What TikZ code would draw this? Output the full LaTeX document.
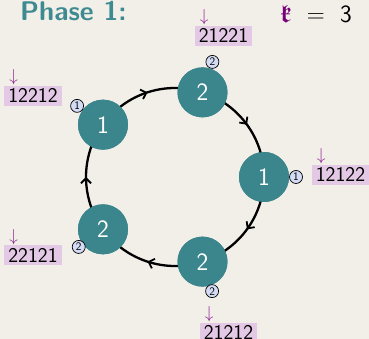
\documentclass[tikz,border=0pt]{standalone}
\usepackage{amsmath,amssymb}
\usetikzlibrary{arrows.meta,decorations.markings,calc}
\definecolor{bgcol}{RGB}{242,239,233}
\definecolor{tealc}{RGB}{59,134,140}
\definecolor{titlec}{RGB}{62,138,145}
\definecolor{labbg}{RGB}{227,201,229}
\definecolor{arrpurple}{RGB}{145,35,150}
\definecolor{kpurple}{RGB}{120,0,120}
\definecolor{smallfill}{RGB}{212,220,245}
\begin{document}
\begin{tikzpicture}[x=1pt,y=1pt,
  bignode/.style={circle,fill=tealc,minimum size=50pt,inner sep=0pt,text=white,
    font=\sffamily\fontsize{25}{27}\selectfont},
  smallnode/.style={circle,draw=black,line width=0.7pt,fill=smallfill,minimum size=13pt,inner sep=0pt,
    font=\sffamily\fontsize{11.5}{12}\selectfont},
  seqbox/.style={fill=labbg,inner xsep=4pt,inner ysep=3pt,text height=14pt,text depth=0pt,
    font=\sffamily\fontsize{21}{23}\selectfont},
  downarr/.style={text=arrpurple,inner sep=0pt,anchor=south,font=\fontsize{19}{21}\selectfont},
  ring/.style={line width=2.3pt,draw=black,postaction={decorate},
    decoration={markings,mark=at position 0.5 with {\arrow{Straight Barb[length=5pt,width=10pt,line width=1.8pt]}}}}
]
\fill[bgcol] (0,0) rectangle (369,339);
\useasboundingbox (0,0) rectangle (369,339);
\coordinate (c) at (175,162);
% ring nodes
\node[bignode] (n72) at ($(c)+(72:89)$) {};
\node[bignode] (n0) at ($(c)+(0:89)$) {};
\node[bignode] (n288) at ($(c)+(-72:89)$) {};
\node[bignode] (n216) at ($(c)+(216:89)$) {};
\node[bignode] (n144) at ($(c)+(144:89)$) {};
% arcs
\draw[ring] (n72.center) arc[start angle=72,end angle=0,radius=89];
\draw[ring] (n0.center) arc[start angle=0,end angle=-72,radius=89];
\draw[ring] (n288.center) arc[start angle=-72,end angle=-144,radius=89];
\draw[ring] (n216.center) arc[start angle=216,end angle=144,radius=89];
\draw[ring] (n144.center) arc[start angle=144,end angle=72,radius=89];
% redraw nodes on top
\node[bignode] at (n72) {2};
\node[bignode] at (n0) {1};
\node[bignode] at (n288) {2};
\node[bignode] at (n216) {2};
\node[bignode] at (n144) {1};
% small labels
\node[smallnode] (s72) at ($(c)+(72:121)$) {2};
\node[smallnode] (s0) at ($(c)+(0:121)$) {1};
\node[smallnode] (s288) at ($(c)+(-72:120)$) {2};
\node[smallnode] (s216) at ($(c)+(216:119)$) {2};
\node[smallnode] (s144) at ($(c)+(144:121)$) {1};
% sequence boxes
\node[seqbox] (q72) at (223.5,303) {21221};
\node[seqbox] (q144) at (33,243) {12212};
\node[seqbox] (q0) at (340.5,164) {12122};
\node[seqbox] (q216) at (33,83.5) {22121};
\node[seqbox] (q288) at (228.5,6) {21212};
\foreach \q in {q72,q144,q0,q216,q288}{
  \node[downarr] at ($(\q.north west)+(9.5,0.5)$) {$\downarrow$};
}
% title
\node[anchor=base west,inner sep=0pt,text=titlec,font=\sffamily\bfseries\fontsize{27}{30}\selectfont] (title) at (20,318) {Phase 1:};
\node[anchor=base west,inner sep=0pt,font=\fontsize{24.88}{28}\selectfont] (kval) at (280,316) {$\textcolor{kpurple}{\boldsymbol{\mathfrak{k}}}\mskip 6mu=\mskip 6mu\mathsf{3}$};
\end{tikzpicture}
\end{document}
